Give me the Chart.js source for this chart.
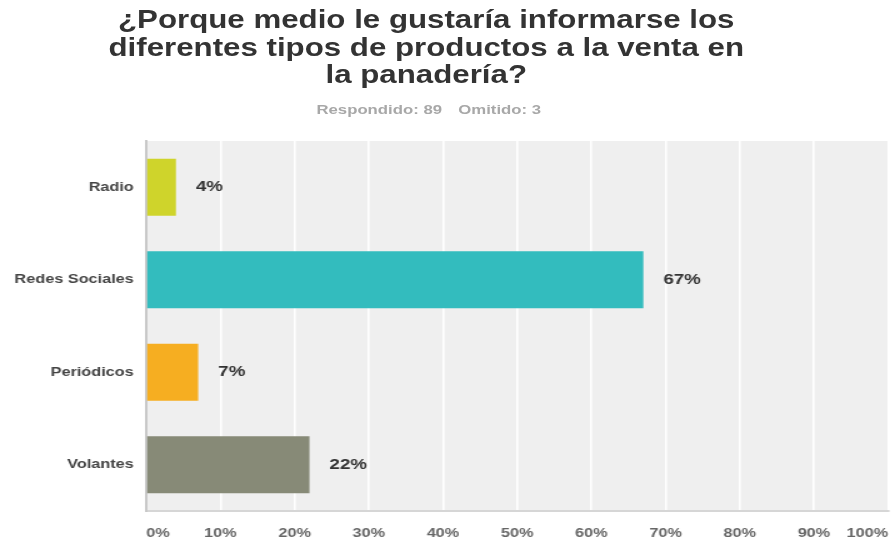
<!DOCTYPE html>
<html lang="es">
<head>
<meta charset="utf-8">
<title>Encuesta panadería</title>
<script src="https://cdn.jsdelivr.net/npm/chart.js@4/dist/chart.umd.min.js"></script>
<style>
  html, body { margin: 0; padding: 0; background: #fff; overflow: hidden; }
  #wrap {
    position: relative;
    width: 713px;
    height: 541px;
    transform: scaleX(1.25);
    transform-origin: 0 0;
    font-family: "Liberation Sans", Arial, sans-serif;
  }
  #title {
    position: absolute;
    left: 0;
    top: 6px;
    width: 682px;
    text-align: center;
    font-weight: bold;
    font-size: 25px;
    line-height: 27.5px;
    color: #333;
    white-space: nowrap;
  }
  #sub {
    position: absolute;
    left: 0;
    top: 102px;
    width: 686px;
    text-align: center;
    font-weight: bold;
    font-size: 13.4px;
    line-height: 16px;
    color: #a8a8a8;
    white-space: nowrap;
  }
  #sub span + span { margin-left: 13px; }
  #chart { position: absolute; left: 0; top: 0; }
</style>
</head>
<body>
<div id="wrap">
  <canvas id="chart" width="713" height="541"></canvas>
  <div id="title">¿Porque medio le gustaría informarse los<br>diferentes tipos de productos a la venta en<br>la panadería?</div>
  <div id="sub"><span>Respondido: 89</span><span>Omitido: 3</span></div>
</div>
<script>
const categories = ['Radio', 'Redes Sociales', 'Periódicos', 'Volantes'];
const percentages = [4, 67, 7, 22];
const barColors = ['#cfd42b', '#33bcbe', '#f6ae21', '#878a77'];
const xTicks = [0, 10, 20, 30, 40, 50, 60, 70, 80, 90, 100];

const plotBackground = {
  id: 'plotBackground',
  beforeDraw: chart => {
    const { ctx, chartArea } = chart;
    ctx.save();
    ctx.fillStyle = '#efefef';
    ctx.fillRect(chartArea.left, chartArea.top, chartArea.right - chartArea.left, chartArea.bottom - chartArea.top);
    ctx.restore();
  }
};

const valueLabels = {
  id: 'valueLabels',
  afterDatasetsDraw: chart => {
    const ctx = chart.ctx;
    const meta = chart.getDatasetMeta(0);
    ctx.save();
    ctx.font = 'bold 15px "Liberation Sans", Arial, sans-serif';
    ctx.fillStyle = '#333';
    ctx.textAlign = 'left';
    ctx.textBaseline = 'middle';
    meta.data.forEach((bar, i) => {
      ctx.fillText(percentages[i] + '%', bar.x + 16, bar.y);
    });
    ctx.restore();
  }
};

Chart.defaults.font.family = '"Liberation Sans", Arial, sans-serif';

new Chart(document.getElementById('chart').getContext('2d'), {
  type: 'bar',
  data: {
    labels: categories,
    datasets: [{
      data: percentages,
      backgroundColor: barColors,
      borderWidth: 0,
      barPercentage: 0.616,
      categoryPercentage: 1
    }]
  },
  options: {
    indexAxis: 'y',
    responsive: false,
    animation: false,
    devicePixelRatio: 1,
    layout: { padding: { top: 141, right: 2.5, left: 0, bottom: 0 } },
    scales: {
      x: {
        min: 0,
        max: 100,
        afterBuildTicks: scale => { scale.ticks = xTicks.map(v => ({ value: v })); },
        afterFit: scale => {
          scale.height = 30;
          scale.paddingLeft = 0;
          scale.paddingRight = 0;
        },
        grid: { color: '#ffffff', lineWidth: 1.6, drawTicks: false },
        border: { display: true, color: '#d6d6d6', width: 2 },
        ticks: {
          align: 'inner',
          padding: 15,
          color: '#666',
          font: { size: 13, weight: 'bold' },
          callback: v => v + '%'
        }
      },
      y: {
        afterFit: scale => { scale.width = 117; },
        grid: { display: false, drawTicks: false },
        border: { display: true, color: '#c8c8c8', width: 2 },
        ticks: {
          padding: 10,
          color: '#444',
          font: { size: 13, weight: 'bold' }
        }
      }
    },
    plugins: {
      legend: { display: false },
      title: { display: false },
      tooltip: { enabled: false }
    }
  },
  plugins: [plotBackground, valueLabels]
});
</script>
</body>
</html>
